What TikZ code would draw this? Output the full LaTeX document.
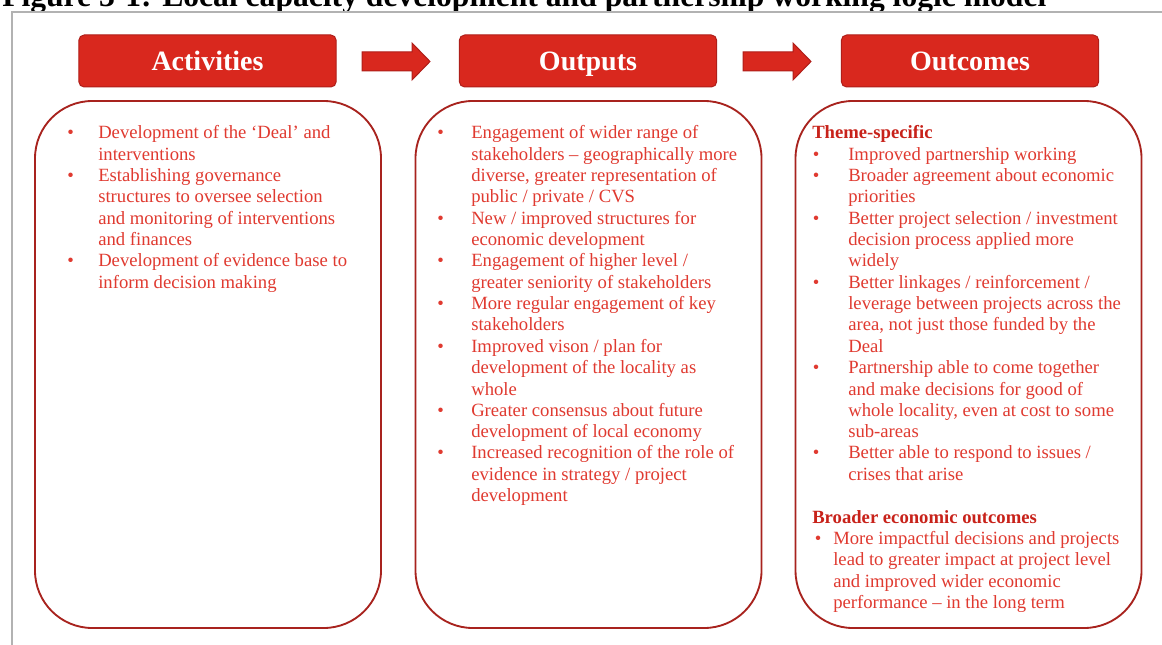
\documentclass[tikz,border=0pt]{standalone}
\usepackage{fontspec}
\setmainfont{Liberation Serif}
\usepackage{graphicx}
\definecolor{headred}{RGB}{217,40,30}
\definecolor{headborder}{RGB}{175,30,25}
\definecolor{boxborder}{RGB}{168,35,30}
\definecolor{txtred}{RGB}{224,58,48}
\definecolor{hdred}{RGB}{200,34,26}
\definecolor{framegray}{RGB}{178,178,178}
\newcommand{\bA}{\leavevmode\llap{\makebox[23.25pt][l]{•}}}
\newcommand{\bO}{\leavevmode\llap{\makebox[25.5pt][l]{•}}}
\newcommand{\bT}{\leavevmode\makebox[27pt][l]{\hspace{0.5pt}•}}
\newcommand{\iT}{\leavevmode\hspace*{27pt}}
\newcommand{\bB}{\leavevmode\makebox[15.75pt][l]{\hspace{2pt}•}}
\newcommand{\iB}{\leavevmode\hspace*{15.75pt}}
\tikzset{
  head/.style={draw=headborder, fill=headred, line width=0.75pt, rounded corners=4pt,
    minimum width=193pt, minimum height=39pt, inner sep=0pt, text=white,
    font=\fontsize{21}{24}\selectfont\bfseries, text height=13.9pt, text depth=0pt},
  body/.style={draw=boxborder, line width=1.4pt, rounded corners=43pt,
    minimum width=259.5pt, minimum height=395.25pt, inner sep=0pt},
  btext/.style={anchor=base west, inner sep=0pt, text=txtred},
  blockarrow/.style={fill=headred, draw=headborder, line width=0.75pt},
}
\newcommand{\bodyfont}{\fontsize{14}{16}\selectfont}
\begin{document}
\begin{tikzpicture}[x=0.75pt, y=-0.75pt]
\useasboundingbox (0,0) rectangle (1162,645);
\clip (0,0) rectangle (1162,645);
\fill[white] (0,0) rectangle (1162,645);

% title (cut off at top)
\node[anchor=base west, inner sep=0pt, font=\fontsize{20}{24}\selectfont\bfseries] (title) at (2,7)
  {\resizebox{783pt}{!}{Figure 3-1: Local capacity development and partnership working logic model}};

% frame
\draw[framegray, line width=1.5pt] (11.5,700) -- (11.5,12) -- (1200,12);

% headers
\node[head] (hA) at (207.5,61) {Activities};
\node[head] (hO) at (588,61) {Outputs};
\node[head] (hC) at (970,61) {Outcomes};

% block arrows
\draw[blockarrow] (362,52) -- (412,52) -- (412,43) -- (430,61.5) -- (412,80) -- (412,71) -- (362,71) -- cycle;
\draw[blockarrow] (743,52) -- (793,52) -- (793,43) -- (811,61.5) -- (793,80) -- (793,71) -- (743,71) -- cycle;

% body boxes
\node[body] (bxA) at (208,364.5) {};
\node[body] (bxO) at (588.5,364.5) {};
\node[body] (bxC) at (968.5,364.5) {};

% activities text
\node[btext] (tA) at (98,139) {\parbox[t]{250pt}{\bodyfont\raggedright\noindent
\bA Development of the ‘Deal’ and\\
interventions\\
\bA Establishing governance\\
structures to oversee selection\\
and monitoring of interventions\\
and finances\\
\bA Development of evidence base to\\
inform decision making}};

% outputs text
\node[btext] (tO) at (471,139) {\parbox[t]{250pt}{\bodyfont\raggedright\noindent
\bO Engagement of wider range of\\
stakeholders – geographically more\\
diverse, greater representation of\\
public / private / CVS\\
\bO New / improved structures for\\
economic development\\
\bO Engagement of higher level /\\
greater seniority of stakeholders\\
\bO More regular engagement of key\\
stakeholders\\
\bO Improved vison / plan for\\
development of the locality as\\
whole\\
\bO Greater consensus about future\\
development of local economy\\
\bO Increased recognition of the role of\\
evidence in strategy / project\\
development}};

% outcomes text
\node[btext] (tC) at (812,139) {\parbox[t]{260pt}{\bodyfont\raggedright\noindent
{\color{hdred}\bfseries Theme-specific}\\
\bT Improved partnership working\\
\bT Broader agreement about economic\\
\iT priorities\\
\bT Better project selection / investment\\
\iT decision process applied more\\
\iT widely\\
\bT Better linkages / reinforcement /\\
\iT leverage between projects across the\\
\iT area, not just those funded by the\\
\iT Deal\\
\bT Partnership able to come together\\
\iT and make decisions for good of\\
\iT whole locality, even at cost to some\\
\iT sub-areas\\
\bT Better able to respond to issues /\\
\iT crises that arise\\[16pt]
{\color{hdred}\bfseries Broader economic outcomes}\\
\bB More impactful decisions and projects\\
\iB lead to greater impact at project level\\
\iB and improved wider economic\\
\iB performance – in the long term}};
\end{tikzpicture}
\end{document}
